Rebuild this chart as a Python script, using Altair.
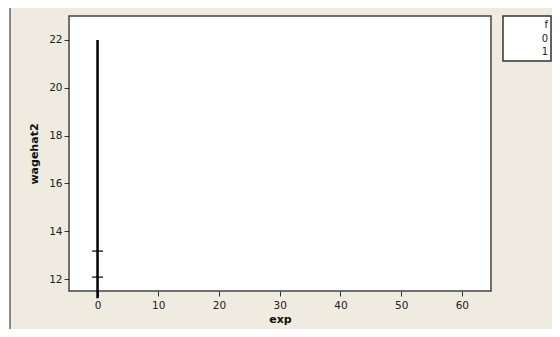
import altair as alt
import pandas as pd

# data
exp_line = [0, 0]
wage_line = [22.0, 11.2]
exp_pts = [0, 0]
wage_pts = [13.17, 12.08]
f_pts = ["1", "0"]
x_ticks = [0, 10, 20, 30, 40, 50, 60]
y_ticks = [12, 14, 16, 18, 20, 22]
legend_title = "f"
legend_labels = ["0", "1"]

W, H = 422, 275
BG = "#efebe1"

x_scale = alt.Scale(domain=[-4.7, 64.8], nice=False, zero=False)
y_scale = alt.Scale(domain=[11.5, 23.0], nice=False, zero=False)

x_enc = alt.X("exp:Q", scale=x_scale,
              axis=alt.Axis(values=x_ticks, title="exp", labelPadding=4, titlePadding=3))
y_enc = alt.Y("wagehat2:Q", scale=y_scale,
              axis=alt.Axis(values=y_ticks, title="wagehat2", labelPadding=2, titlePadding=9))

line_df = pd.DataFrame({"exp": exp_line, "wagehat2": wage_line})
pts_df = pd.DataFrame({"exp": exp_pts, "wagehat2": wage_pts, "f": f_pts})

line = alt.Chart(line_df).mark_line(color="black", strokeWidth=2.5, clip=False).encode(
    x=x_enc, y=y_enc)

ticks = alt.Chart(pts_df).mark_tick(color="black", opacity=1, orient="horizontal",
                                    size=11, thickness=1.2).encode(
    x=alt.X("exp:Q", scale=x_scale), y=alt.Y("wagehat2:Q", scale=y_scale))

one = pd.DataFrame({"a": [0]})

# legend box
leg_box = alt.Chart(one).mark_rect(fill="white", stroke="#333", strokeWidth=1.5).encode(
    x=alt.value(434), x2=alt.value(482), y=alt.value(0), y2=alt.value(45))
leg_texts = []
for i, t in enumerate([legend_title] + legend_labels):
    leg_texts.append(
        alt.Chart(one).mark_text(align="right", baseline="middle", font="DejaVu Sans",
                                 fontSize=10, color="#222").encode(
            x=alt.value(479), y=alt.value(9 + 13.5 * i), text=alt.value(t)))

# window frame at left
white_strip = alt.Chart(one).mark_rect(fill="white").encode(
    x=alt.value(-61), x2=alt.value(-59.5), y=alt.value(-8), y2=alt.value(315))
frame = alt.Chart(one).mark_rule(color="#444", strokeWidth=1.2).encode(
    x=alt.value(-59), y=alt.value(-8), y2=alt.value(315))

chart = alt.layer(white_strip, frame, line, ticks, leg_box, *leg_texts).properties(
    width=W, height=H,
    background=BG,
    padding={"left": 61, "top": 8, "right": 61, "bottom": 38},
    autosize=alt.AutoSizeParams(type="none"),
).configure_view(
    stroke="#444", strokeWidth=1.5, fill="white"
).configure_axis(
    grid=False, domain=False,
    labelFont="DejaVu Sans", labelFontSize=10.5, labelColor="#222",
    tickColor="#333", tickSize=5, tickWidth=1,
    titleFont="DejaVu Sans", titleFontSize=11, titleFontWeight="bold", titleColor="#111",
)

chart.save("out.html", embed_options={"renderer": "svg", "actions": False})
